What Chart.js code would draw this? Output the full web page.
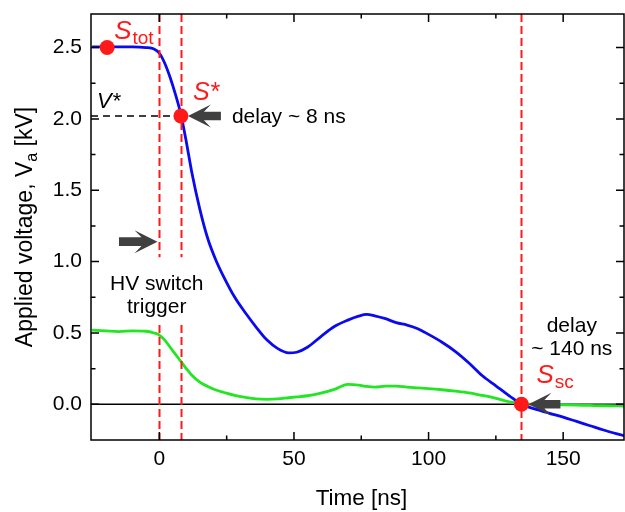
<!DOCTYPE html>
<html>
<head>
<meta charset="utf-8">
<script src="https://cdn.jsdelivr.net/npm/chart.js@4.4.1/dist/chart.umd.min.js"></script>
<style>
  html, body { margin: 0; padding: 0; background: #fff; }
  canvas { display: block; }
</style>
</head>
<body>
<canvas id="chart" width="625" height="512"></canvas>
<script>
// time axis shared by both traces [ns]
const timeNs = [-25, -20, -15, -10, -5, -2, 0, 2, 4, 6, 8, 10, 12, 15, 18, 21, 24, 28, 32, 36,
  40, 44, 48, 51, 55, 60, 65, 70, 74, 77, 80, 84, 88, 92, 96, 100, 105, 110, 115, 120,
  125, 130, 134.5, 140, 145, 150, 155, 160, 165, 172.6];

// applied voltage (blue) [kV]
const voltageBlue = [2.505, 2.505, 2.505, 2.505, 2.50, 2.49, 2.46, 2.39, 2.29, 2.17, 2.03, 1.84, 1.63, 1.37, 1.16, 1.01, 0.89, 0.75, 0.64, 0.54,
  0.45, 0.39, 0.36, 0.365, 0.40, 0.475, 0.545, 0.59, 0.618, 0.63, 0.62, 0.60, 0.572, 0.555, 0.53, 0.49, 0.435, 0.37, 0.29, 0.20,
  0.13, 0.06, 0.0, -0.035, -0.063, -0.09, -0.12, -0.15, -0.18, -0.22];

// second trace (green) [kV]
const voltageGreen = [0.52, 0.515, 0.51, 0.515, 0.512, 0.50, 0.485, 0.45, 0.40, 0.35, 0.30, 0.25, 0.205, 0.155, 0.125, 0.10, 0.083, 0.062, 0.048, 0.038,
  0.035, 0.038, 0.046, 0.052, 0.06, 0.078, 0.105, 0.14, 0.135, 0.125, 0.12, 0.127, 0.128, 0.12, 0.115, 0.11, 0.102, 0.092, 0.08, 0.062,
  0.042, 0.018, 0.005, 0.0, -0.002, -0.004, -0.006, -0.008, -0.01, -0.012];

// marked points: S_tot, S*, S_sc
const markerTime = [-19.4, 8, 134.5];
const markerVolt = [2.50, 2.02, 0.0];

// red dashed marker lines (time) and the V* level
const markerLines = [0, 8, 134.5];
const vStar = 2.02;

const xTicks = [0, 50, 100, 150];
const xMinor = [25, 75, 125];
const yTicks = [0, 0.5, 1.0, 1.5, 2.0, 2.5];
const yMinor = [0.25, 0.75, 1.25, 1.75, 2.25];

const FONT = "Arial, 'Liberation Sans', sans-serif";

// thick grey arrow with a swept-back head
function drawArrow(ctx, xTail, xTip, y) {
  const dir = Math.sign(xTip - xTail);
  const headL = 23, notch = 16, headH = 11.5, body = 4.3;
  ctx.fillStyle = '#404040';
  ctx.beginPath();
  ctx.moveTo(xTail, y - body);
  ctx.lineTo(xTip - dir * notch, y - body);
  ctx.lineTo(xTip - dir * headL, y - headH);
  ctx.lineTo(xTip, y);
  ctx.lineTo(xTip - dir * headL, y + headH);
  ctx.lineTo(xTip - dir * notch, y + body);
  ctx.lineTo(xTail, y + body);
  ctx.closePath();
  ctx.fill();
}

// S with subscript label
function drawSub(ctx, x, y, main, sub, mainSize, subSize, color) {
  ctx.fillStyle = color;
  ctx.textAlign = 'left';
  ctx.textBaseline = 'alphabetic';
  ctx.font = 'italic ' + mainSize + 'px ' + FONT;
  ctx.fillText(main, x, y);
  const w = ctx.measureText(main).width;
  if (sub) {
    ctx.font = subSize + 'px ' + FONT;
    ctx.fillText(sub, x + w + 1, y + 5);
  }
}

function noPad(s) {
  s.paddingLeft = 0; s.paddingRight = 0; s.paddingTop = 0; s.paddingBottom = 0;
}

const decorPlugin = {
  id: 'decor',
  beforeDatasetsDraw(chart) {
    const ctx = chart.ctx, xs = chart.scales.x, ys = chart.scales.y, a = chart.chartArea;
    ctx.save();
    // zero line
    ctx.strokeStyle = '#000';
    ctx.lineWidth = 1.5;
    ctx.beginPath();
    ctx.moveTo(a.left, ys.getPixelForValue(0));
    ctx.lineTo(a.right, ys.getPixelForValue(0));
    ctx.stroke();
    // V* dashed line
    ctx.setLineDash([7, 5]);
    ctx.lineWidth = 1.5;
    ctx.beginPath();
    ctx.moveTo(a.left, ys.getPixelForValue(vStar));
    ctx.lineTo(xs.getPixelForValue(markerLines[1]), ys.getPixelForValue(vStar));
    ctx.stroke();
    ctx.restore();
  },
  beforeDatasetDraw(chart, args) {
    if (args.index !== 0) return;
    const ctx = chart.ctx, xs = chart.scales.x, ys = chart.scales.y, a = chart.chartArea;
    ctx.save();
    ctx.strokeStyle = '#ff1a1a';
    ctx.lineWidth = 2;
    ctx.setLineDash([8, 4]);
    const gapTop = ys.getPixelForValue(1.03), gapBot = ys.getPixelForValue(0.555);
    markerLines.forEach((t, i) => {
      const px = Math.round(xs.getPixelForValue(t)) + 0.5;
      ctx.beginPath();
      if (i < 2) {
        ctx.moveTo(px, a.top); ctx.lineTo(px, gapTop);
        ctx.moveTo(px, gapBot); ctx.lineTo(px, a.bottom);
      } else {
        ctx.moveTo(px, a.top); ctx.lineTo(px, a.bottom);
      }
      ctx.stroke();
    });
    ctx.setLineDash([]);
    // arrows
    const sx = xs.getPixelForValue(markerTime[1]), sy = ys.getPixelForValue(markerVolt[1]);
    drawArrow(ctx, sx + 40, sx + 7, sy);
    drawArrow(ctx, xs.getPixelForValue(-15), xs.getPixelForValue(-0.7), ys.getPixelForValue(1.14));
    const cx = xs.getPixelForValue(markerTime[2]), cy = ys.getPixelForValue(markerVolt[2]);
    drawArrow(ctx, cx + 39, cx + 7, cy);
    ctx.restore();
  },
  afterDraw(chart) {
    const ctx = chart.ctx, xs = chart.scales.x, ys = chart.scales.y, a = chart.chartArea;
    ctx.save();
    // frame and inward ticks
    ctx.strokeStyle = '#000';
    ctx.lineWidth = 1.5;
    ctx.strokeRect(a.left, a.top, a.right - a.left, a.bottom - a.top);
    ctx.beginPath();
    const tick = (vals, len) => {
      vals.forEach(v => {
        const px = xs.getPixelForValue(v);
        ctx.moveTo(px, a.bottom); ctx.lineTo(px, a.bottom - len);
        ctx.moveTo(px, a.top); ctx.lineTo(px, a.top + len);
      });
    };
    const ytick = (vals, len) => {
      vals.forEach(v => {
        const py = ys.getPixelForValue(v);
        ctx.moveTo(a.left, py); ctx.lineTo(a.left + len, py);
        ctx.moveTo(a.right, py); ctx.lineTo(a.right - len, py);
      });
    };
    tick(xTicks, 8); tick(xMinor, 4.5);
    ytick(yTicks, 8); ytick(yMinor, 4.5);
    ctx.stroke();

    // labels
    const p0x = xs.getPixelForValue(markerTime[0]), p0y = ys.getPixelForValue(markerVolt[0]);
    drawSub(ctx, p0x + 7, p0y - 9, 'S', 'tot', 26, 19, '#ff1a1a');
    const p1x = xs.getPixelForValue(markerTime[1]), p1y = ys.getPixelForValue(markerVolt[1]);
    drawSub(ctx, p1x + 12, p1y - 16, 'S*', '', 25, 0, '#ff1a1a');
    const p2x = xs.getPixelForValue(markerTime[2]), p2y = ys.getPixelForValue(markerVolt[2]);
    drawSub(ctx, p2x + 15, p2y - 21, 'S', 'sc', 26, 19, '#ff1a1a');
    drawSub(ctx, a.left + 6, ys.getPixelForValue(vStar) - 8, 'V*', '', 22, 0, '#000');

    ctx.fillStyle = '#000';
    ctx.font = '21px ' + FONT;
    ctx.textAlign = 'left';
    ctx.fillText('delay ~ 8 ns', p1x + 51, p1y + 7);
    ctx.textAlign = 'center';
    const hx = xs.getPixelForValue(-1), hy = ys.getPixelForValue(0.80);
    ctx.fillText('HV switch', hx, hy);
    ctx.fillText('trigger', hx, hy + 23);
    const dx = xs.getPixelForValue(153.2), dy = ys.getPixelForValue(0.51);
    ctx.fillText('delay', dx, dy);
    ctx.fillText('~ 140 ns', dx, dy + 23.5);

    // axis titles
    ctx.font = '22.5px ' + FONT;
    ctx.fillText('Time [ns]', (a.left + a.right) / 2 + 4, 505);

    ctx.translate(31.5, (a.top + a.bottom) / 2);
    ctx.rotate(-Math.PI / 2);
    const parts = [
      ['Applied voltage, V', '23px ' + FONT, 0],
      ['a', '16px ' + FONT, 5],
      [' [kV]', '23px ' + FONT, 0]
    ];
    let total = 0;
    parts.forEach(p => { ctx.font = p[1]; total += ctx.measureText(p[0]).width; });
    let x = -total / 2;
    ctx.textAlign = 'left';
    parts.forEach(p => {
      ctx.font = p[1];
      ctx.fillText(p[0], x, p[2]);
      x += ctx.measureText(p[0]).width;
    });
    ctx.restore();
  }
};

new Chart(document.getElementById('chart'), {
  type: 'line',
  data: {
    datasets: [
      {
        label: 'markers',
        data: markerTime.map((t, i) => ({ x: t, y: markerVolt[i] })),
        showLine: false,
        pointRadius: 7.5,
        pointBackgroundColor: '#ff1a1a',
        pointBorderWidth: 0
      },
      {
        label: 'Va',
        data: timeNs.map((t, i) => ({ x: t, y: voltageBlue[i] })),
        borderColor: '#0a0af0',
        borderWidth: 2.8,
        pointRadius: 0,
        cubicInterpolationMode: 'monotone'
      },
      {
        label: 'second',
        data: timeNs.map((t, i) => ({ x: t, y: voltageGreen[i] })),
        borderColor: '#22e622',
        borderWidth: 2.8,
        pointRadius: 0,
        cubicInterpolationMode: 'monotone'
      }
    ]
  },
  options: {
    responsive: false,
    animation: false,
    devicePixelRatio: 1,
    layout: { autoPadding: false, padding: { left: 0, top: 14, right: 1, bottom: 0 } },
    plugins: { legend: { display: false }, tooltip: { enabled: false } },
    scales: {
      x: {
        type: 'linear',
        min: -25.4,
        max: 172.6,
        grid: { display: false, drawTicks: false },
        border: { display: false },
        afterFit: s => { s.height = 72; noPad(s); },
        afterBuildTicks: s => { s.ticks = xTicks.map(v => ({ value: v })); },
        ticks: { color: '#000', font: { family: FONT, size: 21 }, padding: 7, maxRotation: 0,
                 callback: v => String(v) }
      },
      y: {
        type: 'linear',
        min: -0.25,
        max: 2.735,
        grid: { display: false, drawTicks: false },
        border: { display: false },
        afterFit: s => { s.width = 91; noPad(s); },
        afterBuildTicks: s => { s.ticks = yTicks.map(v => ({ value: v })); },
        ticks: { color: '#000', font: { family: FONT, size: 21 }, padding: 9,
                 callback: v => Number(v).toFixed(1) }
      }
    }
  },
  plugins: [decorPlugin]
});
</script>
</body>
</html>
